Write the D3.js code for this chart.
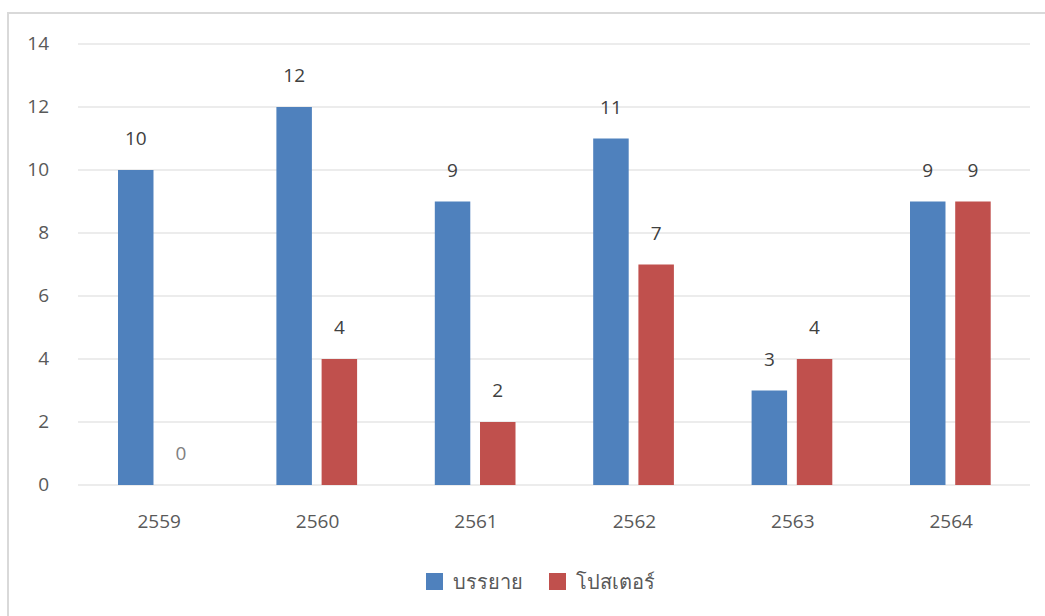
<!DOCTYPE html>
<html><head><meta charset="utf-8">
<script src="https://cdn.jsdelivr.net/npm/d3@7"></script>
<style>body{margin:0;background:#fff}svg{display:block}text{font-family:"Open Sans","Noto Sans",sans-serif}</style>
</head><body><svg width="1045" height="616"></svg>
<script>
const categories = ["2559","2560","2561","2562","2563","2564"];
const seriesNames = ["บรรยาย","โปสเตอร์"];
const lecture = [10,12,9,11,3,9];
const poster = [0,4,2,7,4,9];
const yTicks = [0,2,4,6,8,10,12,14];
const colors = ["#4F81BD","#C0504D"];

const svg = d3.select("svg");
svg.append("rect").attr("x",8).attr("y",13).attr("width",1060).attr("height",620)
  .attr("fill","#fff").attr("stroke","#d9d9d9").attr("stroke-width",2);

const x0 = d3.scaleBand().domain(categories).range([78,1028.4]).paddingInner(0).paddingOuter(0);
const y = d3.scaleLinear().domain([0,14]).range([485,44]);
const x1 = d3.scaleBand().domain([0,1]).range([0,80.7]).paddingInner(0.215);

const g = svg.append("g");
g.selectAll("line.grid").data(yTicks).join("line")
  .attr("x1",78).attr("x2",1030).attr("y1",d=>y(d)).attr("y2",d=>y(d))
  .attr("stroke","#d9d9d9").attr("stroke-width",1);

const yAxis = d3.axisLeft(y).tickValues(yTicks).tickSize(0).tickPadding(0);
const ya = svg.append("g").attr("transform","translate(49,0)").call(yAxis);
ya.select(".domain").remove();
ya.selectAll("text").attr("font-size",19).attr("fill","#595959").attr("dy","0.28em");

const xAxis = d3.axisBottom(x0).tickSize(0).tickPadding(0);
const xa = svg.append("g").attr("transform","translate(2,528)").call(xAxis);
xa.select(".domain").remove();
xa.selectAll("text").attr("font-size",19).attr("fill","#595959").attr("dy","0");

const data = categories.map((c,i)=>({c, vals:[lecture[i],poster[i]]}));
const off = 40;
const grp = svg.selectAll("g.cat").data(data).join("g")
  .attr("transform",d=>`translate(${x0(d.c)+off},0)`);
grp.selectAll("rect").data(d=>d.vals.map((v,k)=>({v,k}))).join("rect")
  .attr("x",d=>x1(d.k)).attr("width",x1.bandwidth())
  .attr("y",d=>y(d.v)).attr("height",d=>y(0)-y(d.v))
  .attr("fill",d=>colors[d.k]);
grp.selectAll("text").data(d=>d.vals.map((v,k)=>({v,k}))).join("text")
  .attr("x",d=>x1(d.k)+x1.bandwidth()/2).attr("y",d=>y(d.v)-25)
  .attr("text-anchor","middle").attr("font-size",19)
  .attr("fill",d=>d.v===0?"#808080":"#404040").text(d=>d.v);

const leg = svg.append("g");
const legX = [426,549];
seriesNames.forEach((n,k)=>{
  leg.append("rect").attr("x",legX[k]).attr("y",573).attr("width",17).attr("height",17).attr("fill",colors[k]);
  leg.append("text").attr("x",legX[k]+27).attr("y",589).attr("font-size",20).attr("fill","#595959").text(n);
});
</script></body></html>
